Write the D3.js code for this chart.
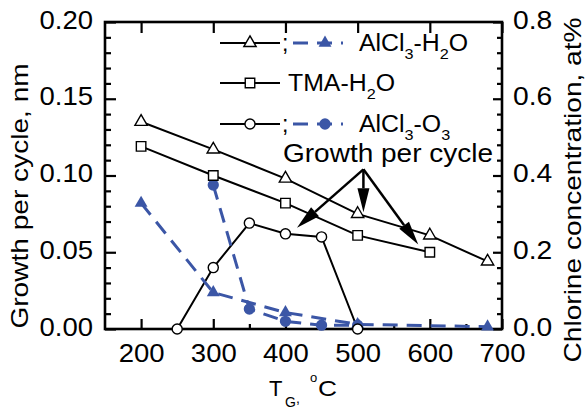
<html><head>
<script src="https://d3js.org/d3.v7.min.js"></script>
<style>
  body { margin: 0; background: white; }
  text { font-family: 'Liberation Sans', Arial, sans-serif; fill: black; }
</style>
</head>
<body>
<script>
  // temperatures (°C)
  const tempTri = [200, 300, 400, 500, 600, 680]
  const tempSq = [200, 300, 400, 500, 600]
  const tempCirc = [250, 300, 350, 400, 450, 500]
  // growth per cycle, nm (left axis)
  const gpcAlcl3H2o = [0.135, 0.117, 0.098, 0.075, 0.061, 0.044]
  const gpcTmaH2o = [0.119, 0.100, 0.082, 0.061, 0.050]
  const gpcAlcl3O3 = [0.000, 0.040, 0.069, 0.062, 0.060, 0.000]
  // chlorine concentration, at% (right axis)
  const tempClTri = [200, 300, 400, 500, 680]
  const clAlcl3H2o = [0.328, 0.095, 0.043, 0.012, 0.006]
  const tempClCirc = [300, 350, 400, 450, 500]
  const clAlcl3O3 = [0.375, 0.052, 0.020, 0.010, 0.010]
  // tick labels
  const xTicks = [200, 300, 400, 500, 600, 700]
  const yLeftTicks = [0, 0.05, 0.10, 0.15, 0.20]
  const yRightTicks = [0, 0.2, 0.4, 0.6, 0.8]
  // arrow annotation: apex and targets (data coords)
  const arrowApex = [508, 0.104]
  const arrowTargets = [[416, 0.066], [508, 0.076], [584, 0.055]]

  const W = 585, H = 410
  const margin = {top: 22, right: 83, bottom: 81, left: 105}
  const blue = "#3b56a6"
  const tickFont = 25

  const svg = d3.select("body").append("svg").attr("width", W).attr("height", H)

  const x = d3.scaleLinear().domain([150, 700]).range([margin.left, W - margin.right])
  const yL = d3.scaleLinear().domain([0, 0.2]).range([H - margin.bottom, margin.top])
  const yR = d3.scaleLinear().domain([0, 0.8]).range([H - margin.bottom, margin.top])

  // the reference font is a bit wider than Arial, so stretch each text
  function stretch(sel, k) {
    sel.each(function() {
      const L = this.getComputedTextLength()
      if (L > 0) d3.select(this).attr("textLength", L * k).attr("lengthAdjust", "spacingAndGlyphs")
    })
  }

  // ---- axes ----
  const bottomAxis = svg.append("g").attr("transform", `translate(0,${H - margin.bottom})`)
  bottomAxis.call(d3.axisBottom(x).tickValues(xTicks).tickSize(-10).tickPadding(15).tickFormat(d3.format("d")))
  bottomAxis.append("g").call(d3.axisBottom(x).tickValues([250, 350, 450, 550, 650]).tickSize(-5).tickFormat(""))

  const topAxis = svg.append("g").attr("transform", `translate(0,${margin.top})`)
  topAxis.call(d3.axisTop(x).tickValues(xTicks).tickSize(-11).tickFormat(""))

  const leftAxis = svg.append("g").attr("transform", `translate(${margin.left},0)`)
  leftAxis.call(d3.axisLeft(yL).tickValues(yLeftTicks).tickSize(-11).tickPadding(12).tickFormat(d3.format(".2f")))
  leftAxis.append("g").call(d3.axisLeft(yL).tickValues(d3.range(0.01, 0.2, 0.01).filter(v => Math.abs(v * 20 - Math.round(v * 20)) > 1e-6)).tickSize(-6).tickFormat(""))

  const rightAxis = svg.append("g").attr("transform", `translate(${W - margin.right},0)`)
  rightAxis.call(d3.axisRight(yR).tickValues(yRightTicks).tickSize(-9).tickPadding(11).tickFormat(d3.format(".1f")))
  rightAxis.append("g").call(d3.axisRight(yR).tickValues(d3.range(0.04, 0.8, 0.04).filter(v => Math.abs(v * 5 - Math.round(v * 5)) > 1e-6)).tickSize(-5).tickFormat(""))

  svg.selectAll(".domain").remove()
  svg.selectAll(".tick line").attr("stroke", "black").attr("stroke-width", 2.2)
  svg.selectAll(".tick text").style("font-size", tickFont + "px").style("font-family", "'Liberation Sans', Arial, sans-serif").attr("fill", "black")
  leftAxis.selectAll(".tick text").attr("dy", "0.24em")
  rightAxis.selectAll(".tick text").attr("dy", "0.24em")
  stretch(bottomAxis.selectAll(".tick text"), 1.1)
  stretch(leftAxis.selectAll(".tick text"), 1.1)
  stretch(rightAxis.selectAll(".tick text"), 1.13)

  // frame
  svg.append("rect")
    .attr("x", margin.left).attr("y", margin.top)
    .attr("width", W - margin.left - margin.right).attr("height", H - margin.top - margin.bottom)
    .attr("fill", "none").attr("stroke", "black").attr("stroke-width", 2.6)

  // ---- data ----
  const plot = svg.append("g")
  const line = (yScale) => d3.line().x(d => x(d[0])).y(d => yScale(d[1]))
  const zip = (a, b) => a.map((v, i) => [v, b[i]])

  const blackSeries = [
    {pts: zip(tempTri, gpcAlcl3H2o), sym: d3.symbolTriangle, size: 66},
    {pts: zip(tempSq, gpcTmaH2o), sym: d3.symbolSquare, size: 90},
    {pts: zip(tempCirc, gpcAlcl3O3), sym: d3.symbolCircle, size: 80}
  ]
  const blueSeries = [
    {pts: zip(tempClTri, clAlcl3H2o), sym: d3.symbolTriangle, size: 72},
    {pts: zip(tempClCirc, clAlcl3O3), sym: d3.symbolCircle, size: 100}
  ]

  blackSeries.forEach(s => {
    plot.append("path").attr("d", line(yL)(s.pts)).attr("fill", "none").attr("stroke", "black").attr("stroke-width", 2)
  })
  blueSeries.forEach(s => {
    plot.append("path").attr("d", line(yR)(s.pts)).attr("fill", "none").attr("stroke", blue)
      .attr("stroke-width", 3).attr("stroke-dasharray", "15,9")
  })
  blueSeries.forEach(s => {
    plot.selectAll(null).data(s.pts).join("path")
      .attr("transform", d => `translate(${x(d[0])},${yR(d[1])})`)
      .attr("d", d3.symbol(s.sym, s.size)).attr("fill", blue)
  })
  blackSeries.forEach(s => {
    plot.selectAll(null).data(s.pts).join("path")
      .attr("transform", d => `translate(${x(d[0])},${yL(d[1])})`)
      .attr("d", d3.symbol(s.sym, s.size)).attr("fill", "white").attr("stroke", "black").attr("stroke-width", 1.4)
  })

  // ---- arrows ----
  const ax = x(arrowApex[0]), ay = yL(arrowApex[1])
  arrowTargets.forEach(t => {
    const tx = x(t[0]), ty = yL(t[1])
    const ang = Math.atan2(ty - ay, tx - ax)
    const len = 24, half = 6
    const bx = tx - len * Math.cos(ang), by = ty - len * Math.sin(ang)
    svg.append("line").attr("x1", ax).attr("y1", ay).attr("x2", bx).attr("y2", by)
      .attr("stroke", "black").attr("stroke-width", 2.5)
    svg.append("path")
      .attr("d", `M${tx},${ty}L${bx - half * Math.sin(ang)},${by + half * Math.cos(ang)}L${bx + half * Math.sin(ang)},${by - half * Math.cos(ang)}Z`)
      .attr("fill", "black")
  })
  const gpcText = svg.append("text").attr("x", 283).attr("y", 162).style("font-size", "25px").text("Growth per cycle")
  stretch(gpcText, 1.12)

  // ---- legend ----
  const legend = svg.append("g")
  const rows = [
    {y: 43, sym: d3.symbolTriangle, size: 66, blueSym: d3.symbolTriangle, blueSize: 72, label: [["AlCl", 0], ["3", 1], ["-H", 0], ["2", 1], ["O", 0]]},
    {y: 83, sym: d3.symbolSquare, size: 90, blueSym: null, label: [["TMA-H", 0], ["2", 1], ["O", 0]]},
    {y: 124, sym: d3.symbolCircle, size: 80, blueSym: d3.symbolCircle, blueSize: 100, label: [["AlCl", 0], ["3", 1], ["-O", 0], ["3", 1]]}
  ]
  rows.forEach(r => {
    legend.append("line").attr("x1", 220).attr("x2", 280).attr("y1", r.y).attr("y2", r.y).attr("stroke", "black").attr("stroke-width", 2)
    legend.append("path").attr("transform", `translate(250,${r.y})`).attr("d", d3.symbol(r.sym, r.size))
      .attr("fill", "white").attr("stroke", "black").attr("stroke-width", 1.4)
    let tx = 288
    if (r.blueSym) {
      legend.append("text").attr("x", 282).attr("y", r.y + 8).style("font-size", "23px").text(";")
      legend.append("line").attr("x1", 293).attr("x2", 343).attr("y1", r.y).attr("y2", r.y)
        .attr("stroke", blue).attr("stroke-width", 3).attr("stroke-dasharray", "15,9")
      legend.append("path").attr("transform", `translate(325,${r.y})`).attr("d", d3.symbol(r.blueSym, r.blueSize)).attr("fill", blue)
      tx = 359
    }
    const t = legend.append("text").attr("x", tx).attr("y", r.y + 8).style("font-size", "23px")
    let sub = false
    r.label.forEach(([s, isSub]) => {
      const dy = isSub && !sub ? 8 : (!isSub && sub ? -8 : 0)
      t.append("tspan").attr("dy", dy).style("font-size", isSub ? "15px" : "23px").text(s)
      sub = !!isSub
    })
    stretch(t, 1.08)
  })

  // ---- axis titles ----
  const yTitleL = svg.append("text").attr("transform", `translate(28,196) rotate(-90)`)
    .attr("text-anchor", "middle").style("font-size", "24px").text("Growth per cycle, nm")
  const yTitleR = svg.append("text").attr("transform", `translate(581,190) rotate(-90)`)
    .attr("text-anchor", "middle").style("font-size", "24px").text("Chlorine concentration, at%")
  stretch(yTitleL, 1.17)
  stretch(yTitleR, 1.17)

  const xt = svg.append("g")
  xt.append("text").attr("x", 269).attr("y", 396).style("font-size", "22px").text("T")
  xt.append("text").attr("x", 285).attr("y", 407).style("font-size", "14px").text("G")
  xt.append("text").attr("x", 296).attr("y", 403).style("font-size", "14px").text(",")
  xt.append("text").attr("x", 310).attr("y", 382).style("font-size", "13px").text("o")
  xt.append("text").attr("x", 318).attr("y", 396).style("font-size", "22px")
    .attr("textLength", 19).attr("lengthAdjust", "spacingAndGlyphs").text("C")
</script>
</body>
</html>
